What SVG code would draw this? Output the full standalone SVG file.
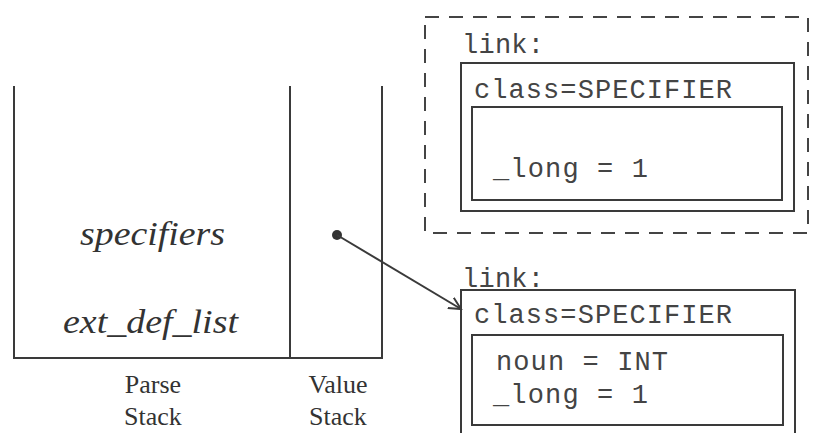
<svg xmlns="http://www.w3.org/2000/svg" width="815" height="433" viewBox="0 0 815 433">
  <style>
    .ln { stroke: #3a3a3a; stroke-width: 2; fill: none; }
    .box { stroke: #3a3a3a; stroke-width: 2; fill: none; }
    .dash { stroke: #444; stroke-width: 2; fill: none; stroke-dasharray: 14 10; }
    .sym { font-family: "Liberation Serif", "Times New Roman", serif; font-style: italic; font-size: 33px; fill: #333; }
    .cap { font-family: "Liberation Serif", "Times New Roman", serif; font-size: 26px; fill: #333; }
    .mono { font-family: "Liberation Mono", "Courier New", monospace; font-size: 27px; fill: #444; }
  </style>
  <defs>
    <marker id="openArrow" markerWidth="14" markerHeight="14" refX="12" refY="7" orient="auto" markerUnits="userSpaceOnUse">
      <polyline points="0,1 12,7 0,13" fill="none" stroke="#3a3a3a" stroke-width="2"/>
    </marker>
  </defs>
  <rect width="815" height="433" fill="#ffffff"/>

  <!-- parse stack and value stack -->
  <g id="stacks">
    <path class="ln" d="M14,86 V358 H382 V86 M290,86 V358"/>
    <text class="sym" x="80" y="245" textLength="145" lengthAdjust="spacingAndGlyphs">specifiers</text>
    <text class="sym" x="63" y="333" textLength="175" lengthAdjust="spacingAndGlyphs">ext_def_list</text>
    <text class="cap" x="153" y="393" text-anchor="middle">Parse</text>
    <text class="cap" x="153" y="425" text-anchor="middle">Stack</text>
    <text class="cap" x="338" y="393" text-anchor="middle">Value</text>
    <text class="cap" x="338" y="425" text-anchor="middle">Stack</text>
  </g>

  <!-- discarded link (dashed outline) -->
  <g id="old-link">
    <rect class="dash" x="425" y="17" width="383" height="216"/>
    <text class="mono" x="462" y="53" textLength="82">link:</text>
    <rect class="box" x="461" y="63" width="333" height="148"/>
    <text class="mono" x="474" y="98" textLength="258">class=SPECIFIER</text>
    <rect class="box" x="472" y="107" width="310" height="93"/>
    <text class="mono" x="493" y="177" textLength="155">_long = 1</text>
  </g>

  <!-- current link -->
  <g id="new-link">
    <text class="mono" x="462" y="287" textLength="82">link:</text>
    <rect class="box" x="461" y="290" width="334" height="160"/>
    <text class="mono" x="474" y="323" textLength="258">class=SPECIFIER</text>
    <rect class="box" x="472" y="335" width="311" height="90"/>
    <text class="mono" x="496" y="370" textLength="172">noun = INT</text>
    <text class="mono" x="493" y="403" textLength="155">_long = 1</text>
  </g>

  <!-- pointer from value stack -->
  <g id="connectors">
    <circle cx="337" cy="235" r="5" fill="#333"/>
    <line class="ln" x1="337" y1="235" x2="461" y2="309" marker-end="url(#openArrow)"/>
  </g>
</svg>
